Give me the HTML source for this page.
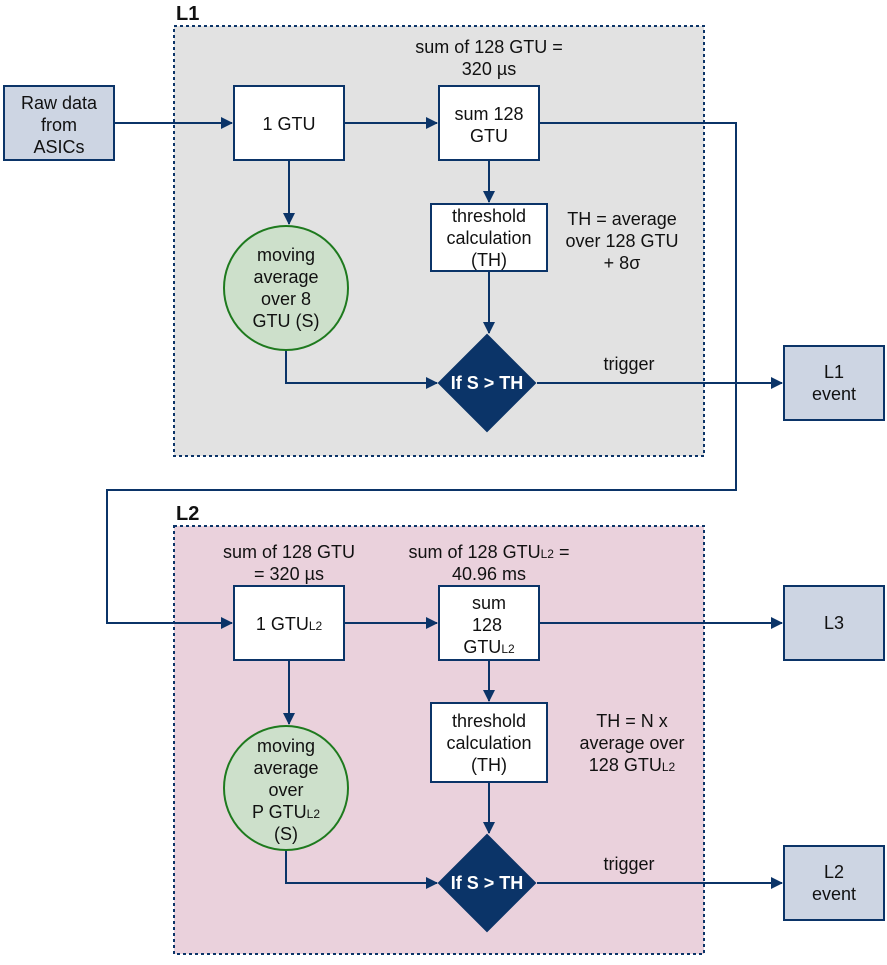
<!DOCTYPE html>
<html><head><meta charset="utf-8"><style>
html,body{margin:0;padding:0;background:#fff}
svg text{font-family:"Liberation Sans",Arial,sans-serif;font-size:18px;fill:#111}
</style></head><body>
<svg width="887" height="960" viewBox="0 0 887 960" xmlns="http://www.w3.org/2000/svg">
<defs>
<marker id="a" markerWidth="12" markerHeight="12" refX="11" refY="6" orient="auto" markerUnits="userSpaceOnUse">
<path d="M0,0 L12,6 L0,12 z" fill="#0b3468"/></marker>
</defs>
<g stroke="#0b3468" stroke-width="2">
<rect x="174" y="26" width="530" height="430" fill="#e2e2e2" stroke-dasharray="3,3"/>
<rect x="174" y="526" width="530" height="428" fill="#ead1dc" stroke-dasharray="3,3"/>
</g>
<text x="176" y="20" style="font-weight:bold;font-size:20px">L1</text>
<text x="176" y="520" style="font-weight:bold;font-size:20px">L2</text>

<g stroke="#0b3468" stroke-width="2" fill="none">
<path d="M114 123 H232" marker-end="url(#a)"/>
<path d="M344 123 H437" marker-end="url(#a)"/>
<path d="M539 123 H736 V490 H107 V623 H232" marker-end="url(#a)"/>
<path d="M289 160 V224" marker-end="url(#a)"/>
<path d="M489 160 V202" marker-end="url(#a)"/>
<path d="M489 271 V333" marker-end="url(#a)"/>
<path d="M286 350 V383 H437" marker-end="url(#a)"/>
<path d="M537 383 H782" marker-end="url(#a)"/>
<path d="M344 623 H437" marker-end="url(#a)"/>
<path d="M539 623 H782" marker-end="url(#a)"/>
<path d="M289 660 V724" marker-end="url(#a)"/>
<path d="M489 660 V701" marker-end="url(#a)"/>
<path d="M489 782 V833" marker-end="url(#a)"/>
<path d="M286 850 V883 H437" marker-end="url(#a)"/>
<path d="M537 883 H782" marker-end="url(#a)"/>
</g>

<g stroke="#0b3468" stroke-width="2">
<rect x="4" y="86" width="110" height="74" fill="#cdd5e3"/>
<rect x="234" y="86" width="110" height="74" fill="#fff"/>
<rect x="439" y="86" width="100" height="74" fill="#fff"/>
<rect x="431" y="204" width="116" height="67" fill="#fff"/>
<rect x="784" y="346" width="100" height="74" fill="#cdd5e3"/>
<rect x="234" y="586" width="110" height="74" fill="#fff"/>
<rect x="439" y="586" width="100" height="74" fill="#fff"/>
<rect x="431" y="703" width="116" height="79" fill="#fff"/>
<rect x="784" y="586" width="100" height="74" fill="#cdd5e3"/>
<rect x="784" y="846" width="100" height="74" fill="#cdd5e3"/>
<path d="M487 335 L535 383 L487 431 L439 383 z" fill="#0b3468"/>
<path d="M487 835 L535 883 L487 931 L439 883 z" fill="#0b3468"/>
</g>
<g stroke="#1e7a1e" stroke-width="2" fill="#cde0cb">
<circle cx="286" cy="288" r="62"/>
<circle cx="286" cy="788" r="62"/>
</g>

<g text-anchor="middle">
<text x="59" y="109">Raw data</text><text x="59" y="131">from</text><text x="59" y="153">ASICs</text>
<text x="289" y="130">1 GTU</text>
<text x="489" y="120">sum 128</text><text x="489" y="142">GTU</text>
<text x="489" y="53">sum of 128 GTU =</text><text x="489" y="75">320 µs</text>
<text x="489" y="222">threshold</text><text x="489" y="244">calculation</text><text x="489" y="266">(TH)</text>
<text x="622" y="225">TH =  average</text><text x="622" y="247">over 128 GTU</text><text x="622" y="269">+ 8σ</text>
<text x="286" y="261">moving</text><text x="286" y="283">average</text><text x="286" y="305">over 8</text><text x="286" y="327">GTU (S)</text>
<text x="487" y="389" style="fill:#fff;font-weight:bold">If S &gt; TH</text>
<text x="629" y="370">trigger</text>
<text x="834" y="378">L1</text><text x="834" y="400">event</text>

<text x="289" y="558">sum of 128 GTU</text><text x="289" y="580">= 320 µs</text>
<text x="489" y="558">sum of 128 GTU<tspan style="font-size:12px">L2</tspan> =</text><text x="489" y="580">40.96 ms</text>
<text x="289" y="630">1 GTU<tspan style="font-size:12px">L2</tspan></text>
<text x="489" y="609">sum</text><text x="487" y="631">128</text><text x="489" y="653">GTU<tspan style="font-size:12px">L2</tspan></text>
<text x="489" y="727">threshold</text><text x="489" y="749">calculation</text><text x="489" y="771">(TH)</text>
<text x="632" y="727">TH = N x</text><text x="632" y="749">average over</text><text x="632" y="771">128 GTU<tspan style="font-size:12px">L2</tspan></text>
<text x="286" y="752">moving</text><text x="286" y="774">average</text><text x="286" y="796">over</text><text x="286" y="818">P GTU<tspan style="font-size:12px">L2</tspan></text><text x="286" y="840">(S)</text>
<text x="487" y="889" style="fill:#fff;font-weight:bold">If S &gt; TH</text>
<text x="629" y="870">trigger</text>
<text x="834" y="629">L3</text>
<text x="834" y="878">L2</text><text x="834" y="900">event</text>
</g>
</svg>
</body></html>
